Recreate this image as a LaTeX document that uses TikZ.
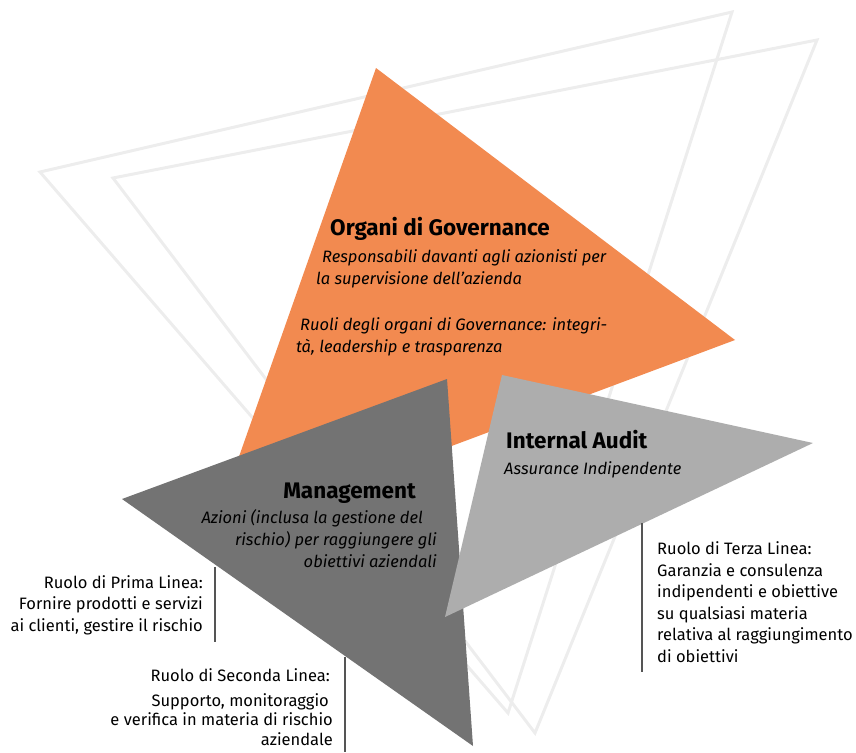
\documentclass[tikz,border=0pt]{standalone}
\usepackage{fontspec}
\setmainfont{Fira Sans}
\definecolor{govorange}{HTML}{F28A50}
\definecolor{mgmtgray}{HTML}{737373}
\definecolor{auditgray}{HTML}{ADADAD}
\definecolor{framegray}{HTML}{EDEDED}
\definecolor{rulegray}{HTML}{555555}
\begin{document}
\begin{tikzpicture}[x=1pt,y=-1pt]
  \tikzset{frame/.style = {draw=framegray, line width=3pt, line join=miter}}
  \tikzset{title/.style = {inner sep=0pt, font=\fontsize{22.5}{26}\selectfont\bfseries}}
  \tikzset{desc/.style = {inner sep=0pt, font=\fontsize{16.5}{22}\selectfont\itshape}}
  \tikzset{role/.style = {inner sep=0pt, font=\fontsize{16.5}{21.5}\selectfont}}
  \tikzset{rule/.style = {draw=rulegray, line width=1.2pt}}

\useasboundingbox (0,0) rectangle (856,752);

% background outlines
\draw[frame] (40,172) -- (732,12) -- (508,713) -- cycle;
\draw[frame] (113,178) -- (817,40) -- (535,733) -- cycle;

% the three triangles
\fill[govorange] (376,68) -- (735,340) -- (211,536) -- cycle;
\fill[mgmtgray] (447,379) -- (473,746) -- (122,499) -- cycle;
\fill[auditgray] (502,375) -- (813,443) -- (445,617) -- cycle;

% governance (base = last line)
\node[title, anchor=base west] (gov) at (330,235) {Organi di Governance};
\node[desc, anchor=base west, align=left] (govresp) at (316,284)
  {\hspace*{6pt}Responsabili davanti agli azionisti per\\la supervisione dell’azienda};
\node[desc, anchor=base west, align=left] (govroles) at (296,352)
  {\hspace*{4pt}Ruoli degli organi di Governance: integri-\\tà, leadership e trasparenza};

% internal audit
\node[title, anchor=base west] (audit) at (506,448) {Internal Audit};
\node[desc, anchor=base west] (auditdesc) at (504,474) {Assurance Indipendente};

% management
\node[title, anchor=base east] (mgmt) at (416,498) {Management};
\node[desc, anchor=base east, align=right] (mgmtdesc) at (437,567)
  {Azioni (inclusa la gestione del\hspace*{14pt}\\rischio) per raggiungere gli\\obiettivi aziendali};

% roles
\node[role, anchor=base east, align=right] (first) at (203,631)
  {Ruolo di Prima Linea:\\Fornire prodotti e servizi\\ai clienti, gestire il rischio};
\node[role, anchor=base east] (second) at (330,681) {Ruolo di Seconda Linea:};
\node[role, anchor=base east, align=right, font=\fontsize{16.5}{19.5}\selectfont] (secondtxt) at (333,745)
  {Supporto, monitoraggio\hspace*{4pt}\\e verifica in materia di rischio\\aziendale};
\node[role, anchor=base west, align=left] (third) at (657,662)
  {Ruolo di Terza Linea:\\Garanzia e consulenza\\indipendenti e obiettive\\su qualsiasi materia\\relativa al raggiungimento\\di obiettivi};

\coordinate (firsttop) at (215,567);
\coordinate (firstbot) at (215,642);
\coordinate (secondtop) at (345,657);
\coordinate (secondbot) at (345,752);
\coordinate (thirdtop) at (642,523);
\coordinate (thirdbot) at (642,672);
\draw[rule] (firsttop) -- (firstbot);
\draw[rule] (secondtop) -- (secondbot);
\draw[rule] (thirdtop) -- (thirdbot);

\end{tikzpicture}
\end{document}
